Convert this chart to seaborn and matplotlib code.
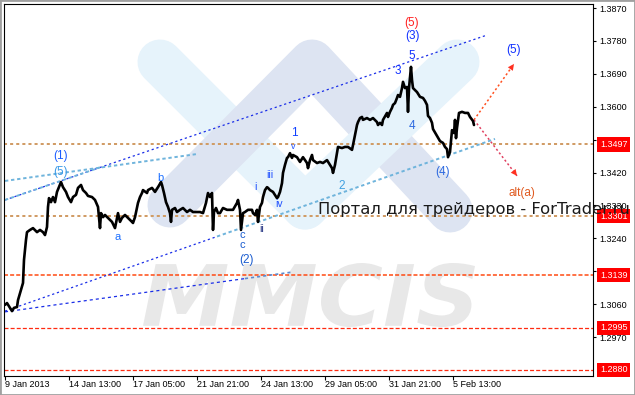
import numpy as np
import pandas as pd
import matplotlib
matplotlib.use("Agg")
import matplotlib.pyplot as plt
import matplotlib.transforms as mtransforms
from matplotlib.textpath import TextPath
from matplotlib.patches import PathPatch, Rectangle
from matplotlib.font_manager import FontProperties
from matplotlib.lines import Line2D
import seaborn as sns

# ---------------- data ----------------
bar_index = [
    0, 2, 5, 7, 9, 12, 13, 16, 18, 19,
    20, 21, 22, 25, 28, 32, 35, 38, 40, 42,
    43, 44, 46, 48, 50, 52, 56, 58, 61, 63,
    66, 68, 71, 73, 76, 78, 81, 83, 87, 90,
    93, 95, 96, 98, 100, 103, 107, 110, 113, 115,
    117, 120, 123, 127, 128, 130, 133, 135, 137, 138,
    142, 143, 147, 150, 153, 156, 157, 159, 161, 163,
    165, 166, 167, 170, 172, 175, 178, 182, 185, 188,
    192, 195, 198, 201, 203, 205, 207, 208, 209, 211,
    213, 215, 218, 222, 225, 228, 232, 233, 235, 236,
    238, 240, 243, 247, 248, 250, 252, 253, 255, 257,
    258, 260, 262, 263, 265, 268, 272, 273, 275, 277,
    278, 280, 282, 283, 285, 287, 288, 292, 295, 298,
    302, 303, 305, 307, 308, 312, 315, 318, 322, 325,
    327, 328, 330, 332, 333, 337, 340, 343, 347, 348,
    350, 352, 353, 355, 357, 358, 362, 365, 368, 372,
    373, 375, 377, 378, 382, 383, 385, 387, 388, 390,
    392, 393, 395, 397, 398, 400, 402, 403, 404, 406,
    407, 408, 412, 415, 418, 420, 422, 423, 425, 427,
    428, 432, 435, 438, 440, 442, 443, 445, 447, 449,
    450, 451, 452, 454, 457, 460, 463, 465, 468, 469,
]
price = [
    1.3058, 1.3063, 1.3050, 1.3041, 1.3050, 1.3052, 1.3071, 1.3099, 1.3118, 1.3181,
    1.3208, 1.3236, 1.3257, 1.3263, 1.3268, 1.3257, 1.3263, 1.3257, 1.3249, 1.3271,
    1.3326, 1.3350, 1.3339, 1.3353, 1.3339, 1.3367, 1.3394, 1.3380, 1.3367, 1.3353,
    1.3339, 1.3353, 1.3359, 1.3378, 1.3386, 1.3372, 1.3364, 1.3356, 1.3353, 1.3345,
    1.3326, 1.3268, 1.3309, 1.3298, 1.3304, 1.3296, 1.3285, 1.3268, 1.3309, 1.3285,
    1.3296, 1.3304, 1.3296, 1.3285, 1.3282, 1.3298, 1.3337, 1.3353, 1.3364, 1.3372,
    1.3364, 1.3372, 1.3378, 1.3367, 1.3380, 1.3394, 1.3386, 1.3364, 1.3339, 1.3326,
    1.3309, 1.3285, 1.3318, 1.3323, 1.3312, 1.3318, 1.3323, 1.3312, 1.3318, 1.3312,
    1.3312, 1.3312, 1.3309, 1.3337, 1.3364, 1.3353, 1.3364, 1.3263, 1.3312, 1.3323,
    1.3309, 1.3309, 1.3323, 1.3318, 1.3318, 1.3318, 1.3337, 1.3345, 1.3318, 1.3263,
    1.3309, 1.3312, 1.3318, 1.3318, 1.3309, 1.3304, 1.3318, 1.3285, 1.3326, 1.3337,
    1.3353, 1.3372, 1.3380, 1.3378, 1.3372, 1.3367, 1.3350, 1.3353, 1.3367, 1.3391,
    1.3419, 1.3441, 1.3460, 1.3462, 1.3473, 1.3460, 1.3468, 1.3462, 1.3449, 1.3462,
    1.3446, 1.3432, 1.3454, 1.3468, 1.3454, 1.3446, 1.3449, 1.3446, 1.3454, 1.3441,
    1.3432, 1.3419, 1.3441, 1.3473, 1.3490, 1.3487, 1.3490, 1.3490, 1.3482, 1.3495,
    1.3523, 1.3550, 1.3558, 1.3569, 1.3572, 1.3564, 1.3569, 1.3564, 1.3569, 1.3558,
    1.3550, 1.3556, 1.3550, 1.3564, 1.3583, 1.3572, 1.3586, 1.3597, 1.3605, 1.3610,
    1.3624, 1.3632, 1.3627, 1.3651, 1.3668, 1.3651, 1.3654, 1.3586, 1.3651, 1.3709,
    1.3673, 1.3651, 1.3640, 1.3627, 1.3624, 1.3616, 1.3605, 1.3575, 1.3569, 1.3556,
    1.3539, 1.3520, 1.3506, 1.3501, 1.3490, 1.3484, 1.3462, 1.3476, 1.3536, 1.3528,
    1.3564, 1.3514, 1.3542, 1.3583, 1.3586, 1.3583, 1.3583, 1.3572, 1.3561, 1.3550,
]

x_tick_bars = [0, 64, 128, 192, 256, 320, 384, 448]
x_tick_labels = ["9 Jan 2013", "14 Jan 13:00", "17 Jan 05:00", "21 Jan 21:00",
                 "24 Jan 13:00", "29 Jan 05:00", "31 Jan 21:00", "5 Feb 13:00"]
y_ticks = [1.3870, 1.3780, 1.3690, 1.3600, 1.3510, 1.3420, 1.3330,
           1.3240, 1.3150, 1.3060, 1.2970]

levels = [1.3497, 1.3301, 1.3139, 1.2995, 1.2880]
level_colors = ["#D09A62", "#D09A62", "#FF4A12", "#FF2A10", "#FF2A10"]

# trend lines: (bar0, price0, bar1, price1, color, width, dash)
trend_lines = [
    (0, 1.3345, 482, 1.3796, "#1a2ee8", 0.9, (1.6, 2.0)),
    (0, 1.3345, 95, 1.3434, "#6fb4dc", 1.4, (2.4, 2.0)),
    (0, 1.3397, 193, 1.3471, "#6fb4dc", 1.4, (2.4, 2.0)),
    (0, 1.3041, 212, 1.3245, "#1a2ee8", 0.9, (1.6, 2.0)),
    (212, 1.3245, 490, 1.3512, "#6fb4dc", 1.4, (2.4, 2.0)),
    (0, 1.3039, 240, 1.3130, "#1a2ee8", 0.9, (2.2, 2.2)),
    (240, 1.3130, 288, 1.3148, "#5a8ad0", 1.2, (2.2, 2.2)),
]
arrows = [
    (469, 1.3564, 509, 1.3717, "#FF5020"),
    (469, 1.3564, 512, 1.3411, "#E04060"),
]

# wave labels: (text, bar, price, color, size)
wave_labels = [
    ("(5)", 407, 1.3829, "#FF2020", 8.5),
    ("(3)", 407, 1.3793, "#1030FF", 8.5),
    ("5", 407, 1.3739, "#1030FF", 8.5),
    ("3", 393, 1.3698, "#1030FF", 8.5),
    ("4", 407, 1.3547, "#2e6ae0", 8.5),
    ("(4)", 438, 1.3421, "#2e6ae0", 8.5),
    ("(5)", 509, 1.3755, "#1030FF", 8.5),
    ("alt(a)", 517, 1.3364, "#E05A20", 8.5),
    ("(1)", 56, 1.3465, "#1a5cff", 8.5),
    ("(5)", 56, 1.3421, "#3a9ae8", 8.5),
    ("b", 155, 1.3405, "#1a6eff", 8.0),
    ("a", 113, 1.3244, "#1a6eff", 8.0),
    ("c", 237, 1.3249, "#1a5ccf", 8.0),
    ("c", 237, 1.3222, "#1a5ccf", 8.0),
    ("(2)", 241, 1.3181, "#1a5ccf", 8.5),
    ("i", 250, 1.3380, "#2050ff", 7.5),
    ("ii", 257, 1.3266, "#203080", 7.5),
    ("iii", 265, 1.3413, "#2050ff", 7.5),
    ("iv", 274, 1.3334, "#2050ff", 7.5),
    ("v", 288, 1.3490, "#2050ff", 6.5),
    ("1", 289, 1.3528, "#1040ff", 8.5),
    ("2", 337, 1.3383, "#40a0e0", 8.5),
]

# ---------------- figure ----------------
sns.set_style("white")
plt.rcParams["font.family"] = ["Liberation Sans", "DejaVu Sans"]
plt.rcParams["lines.scale_dashes"] = False

W, H = 635, 395
fig = plt.figure(figsize=(W / 100, H / 100), dpi=100)
fig.patch.set_facecolor("white")
ax = fig.add_axes([4.3 / W, 19.5 / H, 588.7 / W, 371.2 / H])
ax.set_facecolor("white")

# pixel-space transform (origin top-left)
T = mtransforms.Affine2D().scale(1, -1).translate(0, H)
px2pt = 72 / 100.0

# watermark logo
light_blue = "#E6F3FB"
lavender = "#DDE4F2"
for pts, col, z in [
    ([(160, 62), (305, 207)], light_blue, 0.2),
    ([(170, 205), (312, 62), (450, 210)], lavender, 0.3),
    ([(305, 207), (457, 62)], light_blue, 0.4),
]:
    xs, ys = zip(*pts)
    ln = Line2D(xs, ys, transform=T, color=col, lw=45 * px2pt,
                solid_capstyle="round", solid_joinstyle="round", zorder=z)
    ax.add_line(ln)

# MMCIS watermark text
fp = FontProperties(family="DejaVu Sans", weight="bold", style="oblique")
tp = TextPath((0, 0), "MMCIS", size=100, prop=fp)
bb = tp.get_extents()
sx = (475 - 143) / bb.width
sy = (327 - 263) / bb.height
tr = (mtransforms.Affine2D().translate(-bb.x0, -bb.y0).scale(sx, sy)
      .translate(143, H - 327))
ax.add_patch(PathPatch(tp, transform=tr, facecolor="#E8E8E8",
                       edgecolor="none", zorder=0.5))

# level lines
for lv, col in zip(levels, level_colors):
    if col == "#D09A62":
        ax.axhline(lv, color=col, lw=1.4, dashes=(2.2, 2.2), zorder=1.5)
    else:
        ax.axhline(lv, color=col, lw=0.9 if lv < 1.31 else 1.1,
                   dashes=(2.9, 1.5), zorder=1.5)

# trend lines
for b0, p0, b1, p1, col, lw, ds in trend_lines:
    ax.plot([b0, b1], [p0, p1], color=col, lw=lw, dashes=ds, zorder=2)

# price line
df = pd.DataFrame({"bar": bar_index, "price": price})
sns.lineplot(data=df, x="bar", y="price", sort=False, estimator=None,
             color="black", lw=1.9, ax=ax, zorder=3)

# arrows
for b0, p0, b1, p1, col in arrows:
    ax.plot([b0, b1], [p0, p1], color=col, lw=1.1, dashes=(1.5, 1.8), zorder=2.5)
    bx = b1 - 0.18 * (b1 - b0)
    py = p1 - 0.18 * (p1 - p0)
    ax.annotate("", xy=(b1, p1), xytext=(bx, py),
                arrowprops=dict(arrowstyle="-|>,head_length=0.45,head_width=0.22",
                                color="#FF3020", lw=0.01, shrinkA=0, shrinkB=0),
                zorder=2.6)

# wave labels
for txt, b, p, col, fs in wave_labels:
    ax.text(b, p, txt, color=col, fontsize=fs, ha="center", va="center",
            zorder=4, family=["Liberation Sans", "DejaVu Sans"])

# axes limits / ticks
ax.set_xlim(-0.7, 588.0)
ax.set_ylim(1.286489, 1.388012)
ax.set_xticks(x_tick_bars)
ax.set_xticklabels(x_tick_labels, ha="left")
ax.yaxis.tick_right()
ax.set_yticks(y_ticks)
ax.set_yticklabels([f"{v:.4f}" for v in y_ticks])
ax.tick_params(axis="x", direction="out", length=3, width=0.8, pad=0.5,
               labelsize=6.5, colors="black", bottom=True)
ax.tick_params(axis="y", direction="out", length=2.5, width=0.8, pad=2,
               labelsize=6.5, colors="black", right=True, left=False)
ax.set_xlabel("")
ax.set_ylabel("")
for s in ax.spines.values():
    s.set_visible(True)
    s.set_color("black")
    s.set_linewidth(0.8)

# level price boxes
blend = mtransforms.blended_transform_factory(ax.transAxes, ax.transData)
for lv in levels:
    ax.text(1.0 + 7.0 / 588.7, lv, f"{lv:.4f}", transform=blend, ha="left",
            va="center", color="white", fontsize=6.5, clip_on=False, zorder=6,
            bbox=dict(boxstyle="square,pad=0.3", fc="#FF0000", ec="none"))

# portal caption (drawn over everything, like the reference)
ax.text(318, 214, "Портал для трейдеров - ForTrader.ru", transform=T,
        fontsize=11.8, family="DejaVu Sans", color="#1a1a1a",
        ha="left", va="baseline", zorder=10, clip_on=False)

# outer window border
fig.add_artist(Rectangle((0, 0), 1, 1, transform=fig.transFigure, fill=False,
                         ec="#A0A0A0", lw=2.0))

fig.savefig("out.png", dpi=100, facecolor="white")
